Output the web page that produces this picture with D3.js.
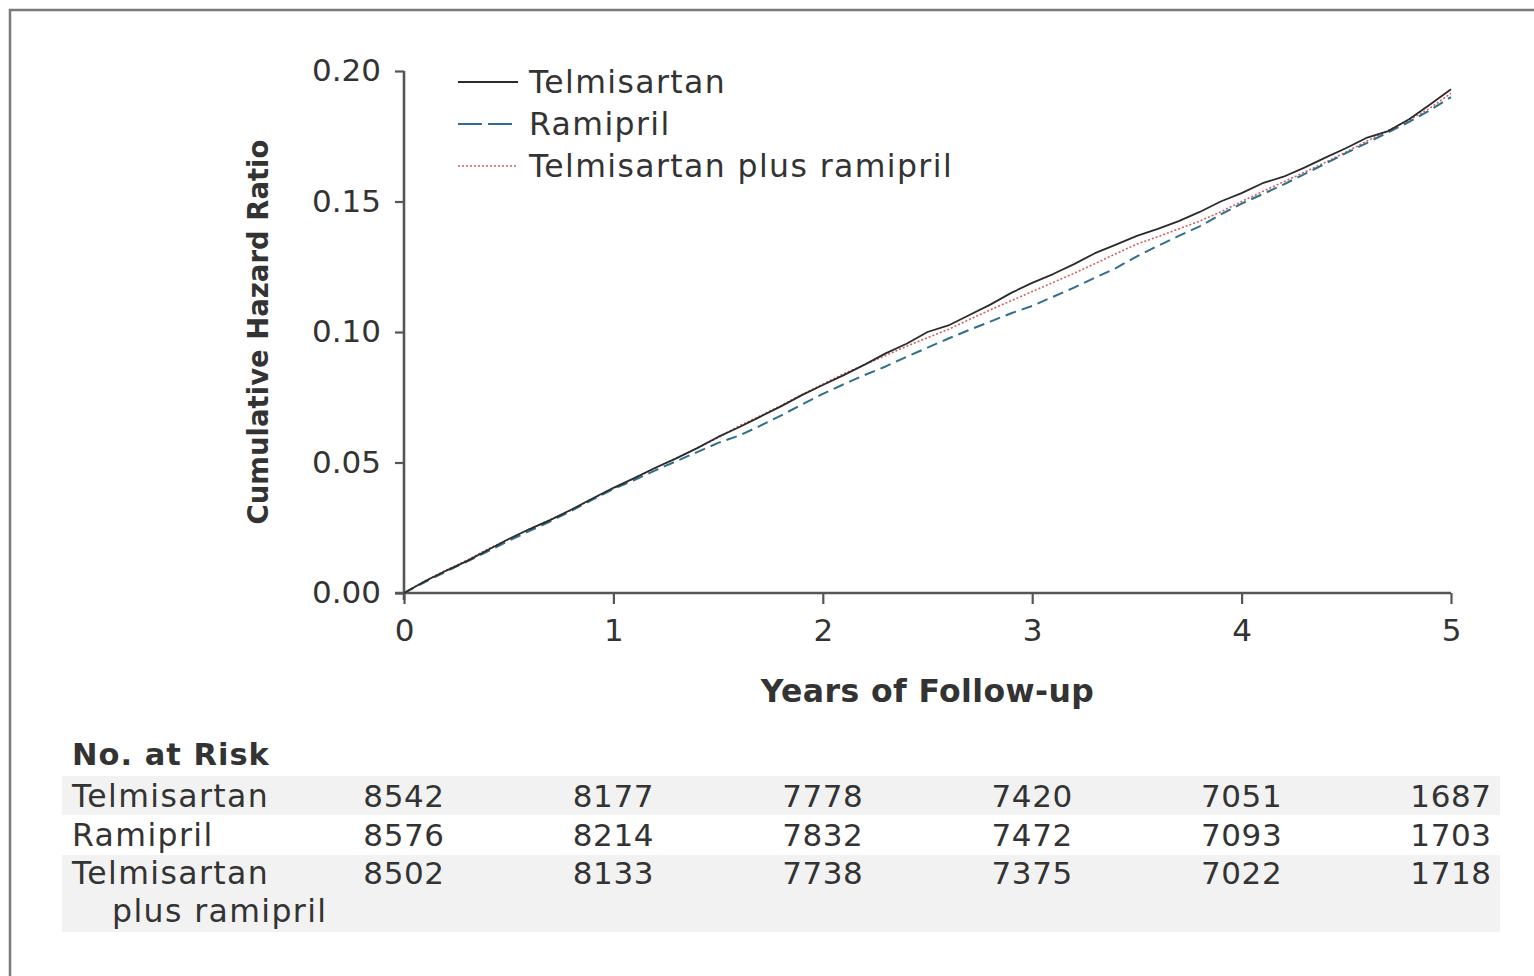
<!DOCTYPE html>
<html>
<head>
<meta charset="utf-8">
<script src="https://cdn.jsdelivr.net/npm/d3@7"></script>
<style>
  html, body { margin: 0; padding: 0; background: #fff; }
  svg { display: block; }
  text { font-family: "DejaVu Sans", "Open Sans", sans-serif; fill: #333; }
</style>
</head>
<body>
<svg id="chart" width="1534" height="976"></svg>
<script>
// Follow-up times (years), shared by all three cumulative hazard curves
const years = [0,0.1,0.2,0.3,0.4,0.5,0.6,0.7,0.8,0.9,1.0,1.1,1.2,1.3,1.4,1.5,1.6,1.7,1.8,1.9,2.0,
  2.1,2.2,2.3,2.4,2.5,2.6,2.7,2.8,2.9,3.0,3.1,3.2,3.3,3.4,3.5,3.6,3.7,3.8,3.9,4.0,
  4.1,4.2,4.3,4.4,4.5,4.6,4.7,4.8,4.9,5.0];

const telmisartan = [0,0.0045,0.0085,0.0122,0.0165,0.0207,0.0245,0.0280,0.0320,0.0362,0.0403,
  0.0440,0.0480,0.0516,0.0555,0.0598,0.0635,0.0675,0.0715,0.0758,0.0797,
  0.0835,0.0875,0.0918,0.0955,0.1000,0.1025,0.1065,0.1105,0.1150,0.1188,
  0.1222,0.1260,0.1302,0.1335,0.1368,0.1395,0.1425,0.1460,0.1500,0.1532,
  0.1570,0.1595,0.1630,0.1668,0.1705,0.1745,0.1770,0.1815,0.1872,0.1930];

const ramipril = [0,0.0042,0.0082,0.0120,0.0160,0.0200,0.0238,0.0275,0.0315,0.0358,0.0398,
  0.0433,0.0470,0.0505,0.0540,0.0575,0.0603,0.0640,0.0680,0.0722,0.0763,
  0.0800,0.0835,0.0868,0.0905,0.0940,0.0975,0.1008,0.1040,0.1072,0.1100,
  0.1135,0.1170,0.1208,0.1245,0.1290,0.1330,0.1368,0.1405,0.1450,0.1492,
  0.1528,0.1565,0.1605,0.1645,0.1686,0.1725,0.1765,0.1805,0.1850,0.1900];

const combination = [0,0.0047,0.0087,0.0125,0.0168,0.0206,0.0245,0.0282,0.0318,0.0360,0.0400,
  0.0440,0.0478,0.0517,0.0555,0.0595,0.0640,0.0678,0.0718,0.0760,0.0800,
  0.0840,0.0875,0.0910,0.0945,0.0978,0.1010,0.1048,0.1085,0.1120,0.1155,
  0.1190,0.1225,0.1262,0.1300,0.1337,0.1365,0.1395,0.1425,0.1460,0.1500,
  0.1538,0.1575,0.1612,0.1650,0.1690,0.1732,0.1772,0.1812,0.1858,0.1915];

const seriesNames = ["Telmisartan", "Ramipril", "Telmisartan plus ramipril"];
const xTicks = [0, 1, 2, 3, 4, 5];
const yTicks = [0, 0.05, 0.10, 0.15, 0.20];

// Number at risk at each yearly tick
const riskLabels = [["Telmisartan"], ["Ramipril"], ["Telmisartan", "plus ramipril"]];
const riskTelmisartan = [8542, 8177, 7778, 7420, 7051, 1687];
const riskRamipril = [8576, 8214, 7832, 7472, 7093, 1703];
const riskCombination = [8502, 8133, 7738, 7375, 7022, 1718];

const svg = d3.select("#chart");

// Outer frame
svg.append("rect")
  .attr("x", 10).attr("y", 10)
  .attr("width", 1560).attr("height", 1000)
  .attr("fill", "none").attr("stroke", "#7a7a7a").attr("stroke-width", 2.5);

const plot = { left: 404, right: 1451, top: 71, bottom: 593 };

const x = d3.scaleLinear().domain([0, 5]).range([plot.left, plot.right]);
const y = d3.scaleLinear().domain([0, 0.20]).range([plot.bottom, plot.top]);

const axisColor = "#555";
const tickFont = 31;
const labelFont = 31.5;
const labelSpacing = 1.4;

// Y axis
const yAxis = svg.append("g")
  .attr("transform", `translate(${plot.left},0)`)
  .call(d3.axisLeft(y).tickValues(yTicks).tickFormat(d3.format(".2f"))
    .tickSize(9).tickSizeOuter(0).tickPadding(14));
yAxis.select(".domain").attr("stroke", axisColor).attr("stroke-width", 2.6)
  .attr("d", `M0,${plot.top}V${plot.bottom + 7}`);
yAxis.selectAll(".tick line").attr("stroke", axisColor).attr("stroke-width", 2.2);
yAxis.selectAll(".tick text").attr("font-size", tickFont).attr("fill", "#333")
  .attr("font-family", "DejaVu Sans");

// X axis
const xAxis = svg.append("g")
  .attr("transform", `translate(0,${plot.bottom})`)
  .call(d3.axisBottom(x).tickValues(xTicks).tickFormat(d3.format("d"))
    .tickSize(11).tickSizeOuter(0).tickPadding(15));
xAxis.select(".domain").attr("stroke", axisColor).attr("stroke-width", 2.6)
  .attr("d", `M${plot.left - 9},0H${plot.right}`);
xAxis.selectAll(".tick line").attr("stroke", axisColor).attr("stroke-width", 2.2);
xAxis.selectAll(".tick text").attr("font-size", tickFont).attr("fill", "#333")
  .attr("font-family", "DejaVu Sans");

// Axis titles
svg.append("text")
  .attr("x", (plot.left + plot.right) / 2).attr("y", 702)
  .attr("text-anchor", "middle")
  .attr("font-size", 31.5).attr("font-weight", "bold")
  .attr("letter-spacing", 0.4)
  .text("Years of Follow-up");

svg.append("text")
  .attr("transform", `translate(268,${(plot.top + plot.bottom) / 2}) rotate(-90)`)
  .attr("text-anchor", "middle")
  .attr("font-size", 27.5).attr("font-weight", "bold")
  .text("Cumulative Hazard Ratio");

// Curves
const styles = [
  { color: "#2b2b2b", width: 1.8, dash: null },
  { color: "#2f6f8c", width: 2.0, dash: "11,6" },
  { color: "#d0605e", width: 1.6, dash: "2,2" }
];
const curves = [telmisartan, ramipril, combination];

const line = d3.line()
  .x((d, i) => x(years[i]))
  .y(d => y(d));

// draw in order: combination, ramipril, telmisartan on top
[2, 1, 0].forEach(k => {
  svg.append("path")
    .datum(curves[k])
    .attr("d", line)
    .attr("fill", "none")
    .attr("stroke", styles[k].color)
    .attr("stroke-width", styles[k].width)
    .attr("stroke-dasharray", styles[k].dash)
    .attr("stroke-linejoin", "round");
});

// Legend
const legend = svg.append("g").attr("transform", "translate(458,82)");
seriesNames.forEach((name, i) => {
  const g = legend.append("g").attr("transform", `translate(0,${i * 42})`);
  g.append("line")
    .attr("x1", 0).attr("x2", 60).attr("y1", 0).attr("y2", 0)
    .attr("stroke", styles[i].color)
    .attr("stroke-width", styles[i].width)
    .attr("stroke-dasharray", i === 1 ? "24,6" : styles[i].dash);
  g.append("text")
    .attr("x", 71).attr("y", 11)
    .attr("font-size", labelFont)
    .attr("letter-spacing", labelSpacing)
    .text(name);
});

// Number-at-risk table
const tableLeft = 62, tableRight = 1500;
const bands = [[776, 815], [855, 932]];
bands.forEach(b => {
  svg.append("rect")
    .attr("x", tableLeft).attr("y", b[0])
    .attr("width", tableRight - tableLeft).attr("height", b[1] - b[0])
    .attr("fill", "#f2f2f2");
});

svg.append("text")
  .attr("x", 72).attr("y", 765)
  .attr("font-size", 30.5).attr("font-weight", "bold")
  .attr("letter-spacing", 1)
  .text("No. at Risk");

const riskRows = [riskTelmisartan, riskRamipril, riskCombination];
const rowBaselines = [807, 846, 884];

riskLabels.forEach((lines, r) => {
  lines.forEach((txt, j) => {
    svg.append("text")
      .attr("x", j === 0 ? 72 : 112)
      .attr("y", rowBaselines[r] + j * 38)
      .attr("font-size", labelFont)
      .attr("letter-spacing", labelSpacing)
      .text(txt);
  });
  svg.selectAll(null)
    .data(riskRows[r])
    .enter().append("text")
    .attr("x", (d, i) => x(xTicks[i]))
    .attr("y", rowBaselines[r])
    .attr("text-anchor", "middle")
    .attr("font-size", 31)
    .attr("letter-spacing", 0.6)
    .text(d => d);
});
</script>
</body>
</html>
